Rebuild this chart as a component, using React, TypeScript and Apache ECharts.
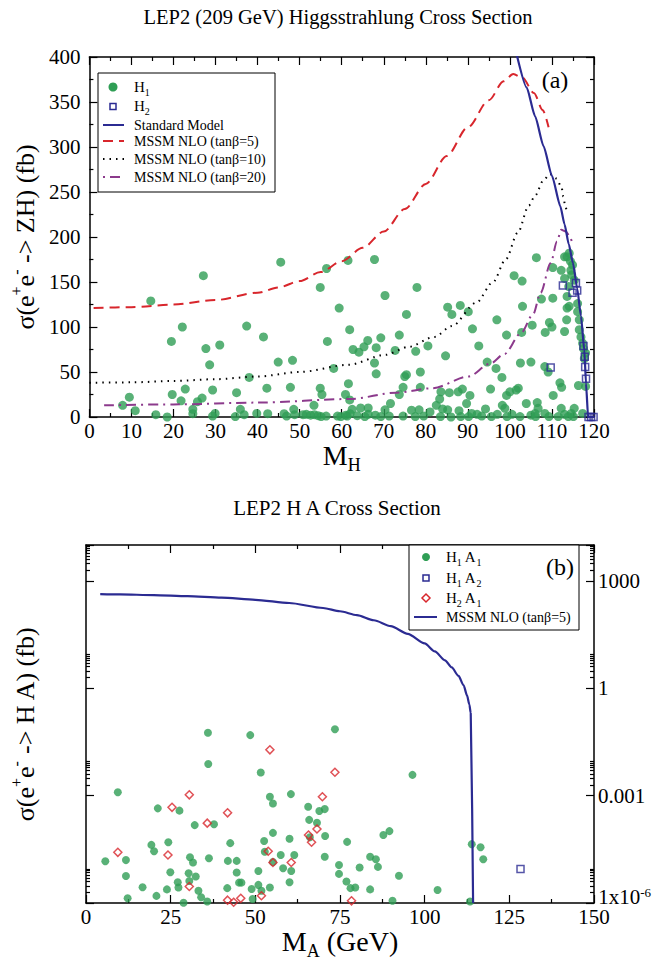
import React, { useEffect, useRef } from 'react';
import * as echarts from 'echarts';

const SERIF = '"Liberation Serif", "Times New Roman", Times, serif';

// ---------------- Panel (a): LEP2 (209 GeV) Higgsstrahlung ----------------
// [M_H (GeV), sigma (fb)]
const h1PointsA: number[][] = [
  [7.9, 13], [9.5, 22], [10.9, 7], [14.6, 129], [15.8, 2.6], [18.5, 0], [19.5, 84], [19.7, 25], [21.8, 18], [22.1, 100],
  [22.8, 31], [24.6, 8.5], [24.6, 3.7], [25.7, 17], [26.8, 21], [27.1, 157], [27.7, 76], [28.6, 58], [29.3, 30], [29.3, 1],
  [29.9, 4], [31, 80], [35, 27], [34.7, 0.5], [35.9, 8.5], [36.8, 2.6], [37.4, 101], [38, 44], [39.8, 4], [41.4, 89],
  [42.2, 32], [42.4, 3.7], [44.9, 61], [45.5, 172], [46.3, 3.7], [46.9, 1], [47.8, 33], [48.3, 63], [48.6, 8.5], [48.8, 2.6],
  [50.8, 2.6], [51.6, 3], [52.6, 2], [53.4, 13], [53.5, 2.6], [54.4, 1.5], [54.9, 144], [54.9, 32], [55.3, 25], [55.1, 0.5],
  [56.3, 1], [56.4, 165], [56.6, 84], [58.1, 54], [59, 1], [59.4, 121], [59.8, 0.5], [60.9, 25], [61, 2], [61.3, 1],
  [61.5, 174], [61.6, 37], [61.9, 19], [61.9, 97], [62, 3.7], [62.5, 8.5], [62.7, 75], [63.7, 1.5], [64.1, 72], [64.5, 10],
  [65.3, 78], [65.5, 0.5], [66.2, 85], [66.3, 10], [66.3, 3], [67.8, 175], [67.8, 60], [68, 2], [68.2, 77], [68.2, 48],
  [69.3, 88], [69.3, 0.5], [70.3, 135], [70.3, 8], [71.3, 1], [71.6, 15], [72.7, 74], [73.7, 91], [73.7, 25], [74.6, 33],
  [74.6, 1], [75, 45], [75.4, 47], [75.4, 114], [76.6, 7.6], [77.5, 0.5], [77.6, 73], [77.9, 144], [78.4, 8], [78.7, 50],
  [78.7, 33], [79.5, 1], [80.5, 79], [81, 5.6], [82.5, 13], [83.3, 20], [83.5, 0.5], [83.6, 28], [84, 9], [84.7, 68],
  [85.2, 122], [85.2, 8], [85.6, 27], [86, 0], [86.2, 114], [87.7, 28], [87.9, 7], [88.2, 124], [88.3, 0.5], [88.7, 31],
  [89.7, 15], [90.1, 117], [90.2, 0.5], [90.5, 24], [90.9, 4], [91.1, 98], [92.2, 3], [92.6, 79], [93.3, 1], [94.2, 9],
  [94.6, 61], [95.4, 31], [95.6, 0.5], [96.7, 54], [96.9, 108], [97, 3], [98.1, 44], [98.2, 13], [98.8, 9.6], [99.2, 91],
  [99.2, 24], [99.3, 0.5], [100, 28], [100.5, 3], [101, 157], [101.5, 30], [102, 32], [102.4, 0.5], [102.5, 60], [102.8, 94],
  [102.9, 151], [103, 123], [103.9, 15], [105, 61], [105, 2], [105.3, 102], [106, 4], [106.1, 0.5], [106.3, 177], [106.5, 16],
  [106.7, 9.6], [107.5, 131], [108.3, 56], [108.3, 4], [108.4, 94], [109.1, 50], [109.3, 0.5], [109.4, 105], [110, 100], [110.2, 132],
  [110.2, 166], [110.3, 24], [111.5, 0.5], [111.9, 38], [112.2, 163], [112.2, 9.6], [112.3, 33], [113, 178], [113, 154], [113, 3],
  [113, 95], [113.5, 108], [113.6, 121], [113.6, 134], [113.6, 178], [113.9, 0.5], [114, 145], [114.1, 182], [114.1, 123], [114.4, 173],
  [114.5, 163], [114.6, 4], [114.7, 158], [114.9, 169], [115.1, 0.5], [115.3, 152], [115.3, 9.6], [116.1, 126], [116.1, 117], [116.3, 35],
  [116.5, 108], [116.5, 97], [116.9, 89], [117.3, 82], [117.3, 4], [117.5, 76], [117.7, 65], [118, 71], [118, 34],
];
const h2PointsA: number[][] = [
  [112.6, 146], [115.7, 149], [114.9, 138], [116, 140.5], [109.7, 55], [117.5, 79], [117.8, 67], [117.9, 55.5],
  [118.1, 42.5], [118.7, 0], [119.3, 0], [119.9, 0],
];
const smCurveA: number[][] = [
  [101.5, 405], [104, 366], [106, 334], [108, 301], [110, 268], [112, 234], [113, 214], [114, 192], [115, 171],
  [116, 143], [116.9, 112], [117.7, 74], [118.1, 37], [118.6, 0], [120, 0],
];
const mssm5CurveA: number[][] = [
  [1, 121], [10, 122], [20, 125], [30, 130], [40, 138], [45, 144], [50, 151], [55, 161], [60, 173], [65, 188], [70, 206],
  [75, 231], [80, 259], [85, 290], [90, 322], [95, 352], [98.5, 373], [100.8, 381], [103, 377], [105.7, 360], [107.8, 341], [109.2, 322],
];
const mssm10CurveA: number[][] = [
  [0, 38], [10, 38.5], [20, 40], [30, 42], [40, 45], [50, 50], [61.6, 58], [70.3, 69], [76, 78], [82, 89], [86.2, 101],
  [92, 127], [96, 150], [99, 175], [101.9, 205], [104.5, 235], [106, 246], [108, 263], [109.5, 270], [111.1, 265],
  [112.3, 255], [112.7, 245], [113.1, 236], [113.6, 226],
];
const mssm20CurveA: number[][] = [
  [3.5, 13], [20, 14], [40, 16], [62, 20], [73, 27], [81.6, 32], [90.2, 45], [95.2, 59], [98.7, 70], [102.6, 93],
  [105.5, 114], [107.3, 138], [109.7, 171], [111.2, 195], [112.2, 208], [113.3, 206], [114.2, 201], [115, 190],
];

// ---------------- Panel (b): LEP2 H A ----------------
// [M_A (GeV), sigma (fb)]
const h1a1PointsB: number[][] = [
  [5.7, 1.46e-5], [9.4, 1.24e-3], [11.8, 1.58e-5], [11.8, 5.7e-6], [12.3, 1.35e-6], [16.7, 2.75e-6], [20.8, 1.58e-6],
  [21.2, 4.4e-4], [19.3, 4.2e-5], [20.1, 2.8e-5], [23.9, 2.4e-6], [24.3, 5.0e-5], [24.9, 7.2e-6], [27.1, 3.8e-6],
  [27.3, 2.7e-6], [27.6, 3.8e-4], [28.8, 1.02e-6], [30.3, 6.8e-6], [30.7, 1.9e-5], [31.6, 1.35e-5], [30.5, 4.1e-6],
  [32.1, 1.5e-4], [32.4, 5.5e-6], [33.2, 2.2e-6], [34.0, 1.45e-6], [35.8, 1.1e-6], [36.0, 5.7e-2], [36.1, 7.6e-3],
  [36.3, 1.78e-5], [37.8, 1.58e-4], [41.7, 2.6e-6], [41.9, 1.5e-5], [42.6, 4.7e-5], [44.5, 1.5e-5], [44.5, 7.1e-6],
  [45.2, 3.7e-6], [45.9, 3.7e-6], [48.5, 4.9e-2], [48.9, 2.45e-6], [49.2, 1.3e-6], [50.9, 7.8e-6], [50.9, 3.2e-6],
  [51.6, 4.4e-3], [51.8, 2.2e-6], [52.6, 5.4e-5], [52.8, 2.7e-5], [54.3, 2.7e-6], [54.3, 9.3e-4], [55.2, 6.0e-4],
  [55.2, 9.1e-5], [55.2, 1.4e-5], [57.5, 2.2e-5], [58.2, 9.3e-6], [60.1, 6.2e-5], [60.5, 1.1e-3], [60.6, 7.8e-6],
  [60.1, 3.8e-6], [61.5, 2.2e-5], [65.6, 4.9e-4], [65.9, 2.1e-4], [66.1, 6.9e-5], [68.2, 1.74e-4], [68.9, 3.7e-4],
  [70.5, 4.2e-4], [70.6, 7.4e-5], [70.5, 1.95e-5], [73.5, 7.1e-2], [74.7, 1.15e-5], [74.7, 6.5e-6], [77.1, 5.1e-5],
  [76.9, 4.0e-6], [78.1, 2.6e-6], [79.5, 2.7e-6], [80.8, 9.8e-6], [83.9, 1.95e-5], [83.9, 2.4e-6], [85.6, 1.66e-5],
  [86.2, 1.02e-5], [87.8, 7.9e-5], [89.6, 1.02e-4], [90.5, 1.15e-6], [92.4, 5.8e-6], [96.4, 3.8e-3], [103.8, 2.3e-6],
  [113.4, 1.1e-6], [113.9, 4.4e-5], [116.5, 3.6e-5], [117.3, 1.66e-5],
];
const h1a2PointsB: number[][] = [[128.3, 8.9e-6]];
const h2a1PointsB: number[][] = [
  [9.4, 2.6e-5], [24.2, 2.2e-5], [25.4, 4.7e-4], [30.5, 1.05e-3], [30.5, 2.9e-6], [35.8, 1.7e-4], [41.8, 3.3e-4],
  [41.8, 1.2e-6], [43.6, 1.05e-6], [45.7, 1.35e-6], [51.8, 1.6e-6], [53.8, 2.8e-5], [54.3, 1.9e-2], [55.2, 1.35e-5],
  [60.6, 1.35e-5], [65.7, 7.9e-5], [66.6, 5.0e-5], [68.2, 1.17e-4], [69.8, 9.3e-4], [73.5, 4.5e-3], [78.4, 1.15e-6],
];
const mssm5CurveB: number[][] = [
  [4.2, 427], [10, 417], [20, 398], [30, 372], [40, 339], [50, 295], [60, 240], [70, 174], [75, 141], [80, 110],
  [85, 79], [90, 54], [95, 33], [100, 17.8], [103, 10.7], [106, 6.0], [108, 3.8], [110, 2.2], [111.5, 1.2],
  [112.5, 0.63], [113.2, 0.35], [113.6, 0.2], [114.3, 1e-6],
];
// log-axis labelled decades (log10 of sigma) and their texts
const logMajorDecades = [-6, -3, 0, 3];
const logMajorLabels = ['{sp| }{t|1x10}{sup|-6}', '0.001', '1', '1000'];

const GREEN = '#2f9e55';
const BLUE = '#2b2b92';
const RED = '#d8262c';
const PURPLE = '#8c3a8c';

const toLog = (pts: number[][]) => pts.map(([m, s]) => [m, Math.log10(s)]);

const tickLine = { color: '#000', width: 1.2 };
const labelStyle = { show: true, fontFamily: SERIF, fontSize: 21, color: '#000', margin: 3 };

function axis(o: any) {
  return {
    type: 'value',
    axisLine: { show: true, onZero: false, lineStyle: { color: '#000', width: 1.5 } },
    axisTick: { show: true, inside: true, length: 8, lineStyle: tickLine },
    minorTick: { show: true, splitNumber: 2, length: 4, lineStyle: tickLine },
    splitLine: { show: false },
    minorSplitLine: { show: false },
    axisLabel: { show: false },
    ...o,
  };
}

const supRich = {
  t: { fontFamily: SERIF, fontSize: 26, color: '#000', lineHeight: 34 },
  sup: { fontFamily: SERIF, fontSize: 16, color: '#000', lineHeight: 16, verticalAlign: 'top' },
};
const subRich = {
  m: { fontFamily: SERIF, fontSize: 28, color: '#000', lineHeight: 36 },
  s: { fontFamily: SERIF, fontSize: 18, color: '#000', lineHeight: 18, verticalAlign: 'bottom' },
};
const legRich = {
  t: { fontFamily: SERIF, fontSize: 15, color: '#000', lineHeight: 20 },
  s: { fontFamily: SERIF, fontSize: 10, color: '#000', lineHeight: 10, verticalAlign: 'bottom' },
};

function legendText(x: number, y: number, text: string) {
  return {
    type: 'text', x, y, silent: true, z: 101,
    style: { text, rich: legRich, fontFamily: SERIF, fontSize: 14, fill: '#000', textAlign: 'left', textVerticalAlign: 'middle' },
  };
}
function legendLine(x1: number, x2: number, y: number, color: string, dash: any) {
  return {
    type: 'line', silent: true, z: 101,
    shape: { x1, y1: y, x2, y2: y },
    style: { stroke: color, lineWidth: 2, lineDash: dash },
  };
}

function buildOption() {
  const minorLogTicks: number[] = [];
  logMajorDecades.forEach((d) => {
    for (let k = 2; k <= 9; k++) minorLogTicks.push(d + Math.log10(k));
  });

  const graphic: any[] = [
    { type: 'text', x: 338, y: 17, silent: true, style: { text: 'LEP2 (209 GeV) Higgsstrahlung Cross Section', fontFamily: SERIF, fontSize: 20.5, fill: '#000', textAlign: 'center', textVerticalAlign: 'middle' } },
    { type: 'text', x: 337, y: 508, silent: true, style: { text: 'LEP2 H A Cross Section', fontFamily: SERIF, fontSize: 21, fill: '#000', textAlign: 'center', textVerticalAlign: 'middle' } },
    { type: 'text', x: 555, y: 80, silent: true, style: { text: '(a)', fontFamily: SERIF, fontSize: 24, fill: '#000', textAlign: 'center', textVerticalAlign: 'middle' } },
    { type: 'text', x: 560, y: 567, silent: true, z: 102, style: { text: '(b)', fontFamily: SERIF, fontSize: 24, fill: '#000', textAlign: 'center', textVerticalAlign: 'middle' } },
    // legend (a)
    { type: 'rect', silent: true, z: 100, shape: { x: 98, y: 73, width: 177, height: 119 }, style: { fill: '#fff', stroke: '#000', lineWidth: 1 } },
    { type: 'circle', silent: true, z: 101, shape: { cx: 113, cy: 87, r: 4.5 }, style: { fill: GREEN } },
    legendText(134, 87, '{t|H}{s|1}'),
    { type: 'rect', silent: true, z: 101, shape: { x: 110, y: 103.5, width: 6, height: 6 }, style: { fill: 'none', stroke: BLUE, lineWidth: 1.5 } },
    legendText(134, 106, '{t|H}{s|2}'),
    legendLine(103, 124, 125, BLUE, null),
    legendText(134, 125, 'Standard Model'),
    legendLine(103, 124, 141, RED, [10, 6]),
    legendText(134, 141, 'MSSM NLO (tanβ=5)'),
    legendLine(103, 124, 159, '#000', [1.5, 5]),
    legendText(134, 159, 'MSSM NLO (tanβ=10)'),
    legendLine(103, 124, 177, PURPLE, [2, 5, 10, 5]),
    legendText(134, 177, 'MSSM NLO (tanβ=20)'),
    // legend (b)
    { type: 'rect', silent: true, z: 100, shape: { x: 409, y: 545, width: 170, height: 85 }, style: { fill: '#fff', stroke: '#000', lineWidth: 1 } },
    { type: 'circle', silent: true, z: 101, shape: { cx: 426, cy: 557, r: 4 }, style: { fill: GREEN } },
    legendText(446, 557, '{t|H}{s|1}{t| A}{s|1}'),
    { type: 'rect', silent: true, z: 101, shape: { x: 423, y: 575, width: 6, height: 6 }, style: { fill: 'none', stroke: BLUE, lineWidth: 1.5 } },
    legendText(446, 578, '{t|H}{s|1}{t| A}{s|2}'),
    { type: 'polygon', silent: true, z: 101, shape: { points: [[426, 594], [430, 598], [426, 602], [422, 598]] }, style: { fill: 'none', stroke: RED, lineWidth: 1.5 } },
    legendText(446, 598, '{t|H}{s|2}{t| A}{s|1}'),
    legendLine(414, 437, 617, BLUE, null),
    legendText(446, 617, 'MSSM NLO (tanβ=5)'),
  ];

  return {
    animation: false,
    backgroundColor: '#fff',
    grid: [
      { left: 82, top: 57, width: 512, height: 360 },
      { left: 80, top: 545, width: 514, height: 358 },
    ],
    xAxis: [
      axis({
        gridIndex: 0, position: 'bottom', min: 0, max: 120, interval: 10,
        axisLabel: { ...labelStyle },
        name: '{m|M}{s|H}', nameLocation: 'middle', nameGap: 19,
        nameTextStyle: { fontFamily: SERIF, fontSize: 28, color: '#000', rich: subRich },
      }),
      axis({ gridIndex: 0, position: 'top', min: 0, max: 120, interval: 10 }),
      axis({
        gridIndex: 1, position: 'bottom', min: 0, max: 150, interval: 25,
        axisLabel: { ...labelStyle },
        name: '{m|M}{s|A}{m| (GeV)}', nameLocation: 'middle', nameGap: 19,
        nameTextStyle: { fontFamily: SERIF, fontSize: 28, color: '#000', rich: subRich },
      }),
      axis({ gridIndex: 1, position: 'top', min: 0, max: 150, interval: 25 }),
    ],
    yAxis: [
      axis({
        gridIndex: 0, position: 'left', min: 0, max: 400, interval: 50,
        axisLabel: { ...labelStyle, margin: 9 },
        name: '{t|σ(e}{sup|+}{t|e}{sup|-}{t| -> ZH) (fb)}', nameLocation: 'middle', nameRotate: 90, nameGap: 46,
        nameTextStyle: { fontFamily: SERIF, fontSize: 26, color: '#000', rich: supRich },
      }),
      axis({ gridIndex: 0, position: 'right', min: 0, max: 400, interval: 50 }),
      axis({
        gridIndex: 1, position: 'left', min: -6, max: 4, interval: 3,
        minorTick: { show: false },
        name: '{t|σ(e}{sup|+}{t|e}{sup|-}{t| -> H A) (fb)}', nameLocation: 'middle', nameRotate: 90, nameGap: 44,
        nameTextStyle: { fontFamily: SERIF, fontSize: 26, color: '#000', rich: supRich },
      }),
      axis({
        gridIndex: 1, position: 'right', min: -6, max: 4, interval: 3,
        minorTick: { show: false },
        axisLabel: {
          ...labelStyle, margin: 4,
          formatter: (v: number) => {
            const i = logMajorDecades.indexOf(Math.round(v * 1000) / 1000);
            return i >= 0 ? logMajorLabels[i] : '';
          },
          rich: {
            sp: { fontSize: 1, lineHeight: 34 },
            t: { fontFamily: SERIF, fontSize: 21, color: '#000', lineHeight: 24, verticalAlign: 'top' },
            sup: { fontFamily: SERIF, fontSize: 13, color: '#000', lineHeight: 8, verticalAlign: 'top' },
          },
        },
      }),
      axis({
        gridIndex: 1, position: 'left', min: -6, max: 4,
        axisLine: { show: false, onZero: false },
        axisTick: { show: true, inside: true, length: 4, lineStyle: tickLine, customValues: minorLogTicks },
        minorTick: { show: false },
      }),
      axis({
        gridIndex: 1, position: 'right', min: -6, max: 4,
        axisLine: { show: false, onZero: false },
        axisTick: { show: true, inside: true, length: 4, lineStyle: tickLine, customValues: minorLogTicks },
        minorTick: { show: false },
      }),
    ],
    series: [
      {
        name: 'MSSM NLO (tanβ=5)', type: 'line', xAxisIndex: 0, yAxisIndex: 0, data: mssm5CurveA,
        symbol: 'none', smooth: 0.3, smoothMonotone: 'x', lineStyle: { color: RED, width: 2, type: [10, 6] },
      },
      {
        name: 'MSSM NLO (tanβ=10)', type: 'line', xAxisIndex: 0, yAxisIndex: 0, data: mssm10CurveA,
        symbol: 'none', smooth: 0.3, smoothMonotone: 'x', lineStyle: { color: '#000', width: 2, type: [1.5, 5] },
      },
      {
        name: 'MSSM NLO (tanβ=20)', type: 'line', xAxisIndex: 0, yAxisIndex: 0, data: mssm20CurveA,
        symbol: 'none', smooth: 0.3, smoothMonotone: 'x', lineStyle: { color: PURPLE, width: 2, type: [10, 5, 2, 5] },
      },
      {
        name: 'H1', type: 'scatter', xAxisIndex: 0, yAxisIndex: 0, data: h1PointsA,
        symbol: 'circle', symbolSize: 9, itemStyle: { color: GREEN },
      },
      {
        name: 'Standard Model', type: 'line', xAxisIndex: 0, yAxisIndex: 0, data: smCurveA,
        symbol: 'none', smooth: 0.2, smoothMonotone: 'x', lineStyle: { color: BLUE, width: 2.2 },
      },
      {
        name: 'H2', type: 'scatter', xAxisIndex: 0, yAxisIndex: 0, data: h2PointsA,
        symbol: 'rect', symbolSize: 7, itemStyle: { color: 'rgba(0,0,0,0)', borderColor: BLUE, borderWidth: 1.5 },
      },
      {
        name: 'MSSM NLO (tanβ=5) HA', type: 'line', xAxisIndex: 2, yAxisIndex: 2, data: toLog(mssm5CurveB),
        symbol: 'none', smooth: 0.25, smoothMonotone: 'x', lineStyle: { color: BLUE, width: 2.2 },
      },
      {
        name: 'H1 A1', type: 'scatter', xAxisIndex: 2, yAxisIndex: 2, data: toLog(h1a1PointsB),
        symbol: 'circle', symbolSize: 8, itemStyle: { color: GREEN },
      },
      {
        name: 'H1 A2', type: 'scatter', xAxisIndex: 2, yAxisIndex: 2, data: toLog(h1a2PointsB),
        symbol: 'rect', symbolSize: 7, itemStyle: { color: 'rgba(0,0,0,0)', borderColor: BLUE, borderWidth: 1.5 },
      },
      {
        name: 'H2 A1', type: 'scatter', xAxisIndex: 2, yAxisIndex: 2, data: toLog(h2a1PointsB),
        symbol: 'diamond', symbolSize: 8, itemStyle: { color: 'rgba(0,0,0,0)', borderColor: RED, borderWidth: 1.5 },
      },
    ],
    graphic,
  };
}

export default function App() {
  const ref = useRef<HTMLDivElement>(null);
  useEffect(() => {
    document.body.style.margin = '0';
    const chart = echarts.init(ref.current as HTMLDivElement, null, { renderer: 'svg' });
    chart.setOption(buildOption() as any);
    return () => chart.dispose();
  }, []);
  return <div ref={ref} style={{ width: 656, height: 961 }} />;
}
